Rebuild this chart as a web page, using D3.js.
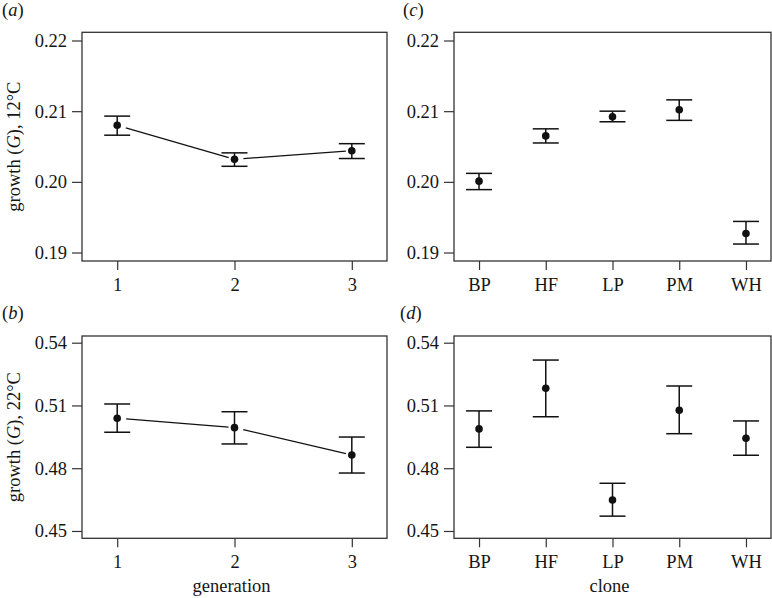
<!DOCTYPE html>
<html>
<head>
<meta charset="utf-8">
<script src="https://cdn.jsdelivr.net/npm/d3@7"></script>
<style>
  html, body { margin: 0; padding: 0; background: #fff; }
  svg { display: block; }
  text { font-family: "Liberation Serif", "Times New Roman", serif; fill: #151515; }
</style>
</head>
<body>
<svg id="chart" width="772" height="598"></svg>
<script>
// ---- data ----
const generations = ["1", "2", "3"];
const clones = ["BP", "HF", "LP", "PM", "WH"];

const gen12Mean = [0.2080, 0.2032, 0.2044];
const gen12Lo   = [0.2066, 0.2022, 0.2033];
const gen12Hi   = [0.2093, 0.2041, 0.2054];

const clone12Mean = [0.2001, 0.2065, 0.2092, 0.2102, 0.1927];
const clone12Lo   = [0.1989, 0.2055, 0.2085, 0.2087, 0.1912];
const clone12Hi   = [0.2012, 0.2075, 0.2100, 0.2116, 0.1944];

const gen22Mean = [0.5039, 0.4994, 0.4863];
const gen22Lo   = [0.4972, 0.4916, 0.4777];
const gen22Hi   = [0.5107, 0.5070, 0.4949];

const clone22Mean = [0.4988, 0.5182, 0.4648, 0.5077, 0.4943];
const clone22Lo   = [0.4900, 0.5046, 0.4571, 0.4965, 0.4862];
const clone22Hi   = [0.5074, 0.5317, 0.4728, 0.5193, 0.5026];

const ticks12 = [0.19, 0.20, 0.21, 0.22];
const ticks22 = [0.45, 0.48, 0.51, 0.54];

const panelLabels = ["a", "b", "c", "d"];
const yTitle12 = ["growth (", "G", "), 12°C"];
const yTitle22 = ["growth (", "G", "), 22°C"];
const xTitleGen = "generation";
const xTitleClone = "clone";

// ---- drawing ----
const svg = d3.select("#chart");
const FRAME = "#333";
const FS = 18.5;

function panel(opts) {
  const { left, right, top, bottom, cats, mean, lo, hi, yDomain, ticks, connect, label, labelX, labelY, yTitle, xTitle, tickFmt } = opts;
  const g = svg.append("g");
  const pad = cats.length === 3 ? 0.3 : 0.375;
  const x = d3.scaleLinear().domain([1 - pad, cats.length + pad]).range([left, right]);
  const y = d3.scaleLinear().domain(yDomain).range([bottom, top]);

  // frame
  g.append("rect").attr("x", left).attr("y", top)
    .attr("width", right - left).attr("height", bottom - top)
    .attr("fill", "none").attr("stroke", FRAME).attr("stroke-width", 1.3);

  // y axis
  const yAxis = d3.axisLeft(y).tickValues(ticks).tickFormat(tickFmt).tickSize(10).tickPadding(5);
  const ya = g.append("g").attr("transform", `translate(${left},0)`).call(yAxis);
  ya.select(".domain").remove();
  ya.selectAll(".tick line").attr("stroke", FRAME).attr("stroke-width", 1.2);
  ya.selectAll(".tick text").attr("font-size", FS).attr("font-family", "Liberation Serif").attr("fill", "#151515");

  // x axis
  const xAxis = d3.axisBottom(x).tickValues(d3.range(1, cats.length + 1)).tickFormat(i => cats[i - 1]).tickSize(9).tickPadding(8);
  const xa = g.append("g").attr("transform", `translate(0,${bottom})`).call(xAxis);
  xa.select(".domain").remove();
  xa.selectAll(".tick line").attr("stroke", FRAME).attr("stroke-width", 1.2);
  xa.selectAll(".tick text").attr("font-size", FS).attr("font-family", "Liberation Serif").attr("fill", "#151515");

  const idx = d3.range(cats.length);

  // connecting lines with gaps
  if (connect) {
    for (let i = 0; i < cats.length - 1; i++) {
      const x1 = x(i + 1), y1 = y(mean[i]), x2 = x(i + 2), y2 = y(mean[i + 1]);
      const len = Math.hypot(x2 - x1, y2 - y1);
      const ux = (x2 - x1) / len, uy = (y2 - y1) / len;
      const g1 = 9, g2 = 6;
      g.append("line")
        .attr("x1", x1 + ux * g1).attr("y1", y1 + uy * g1)
        .attr("x2", x2 - ux * g2).attr("y2", y2 - uy * g2)
        .attr("stroke", "#111").attr("stroke-width", 1.3);
    }
  }

  // error bars
  const eb = g.append("g").attr("stroke", "#111").attr("stroke-width", 1.5);
  eb.selectAll("line.v").data(idx).join("line").attr("class", "v")
    .attr("x1", i => x(i + 1)).attr("x2", i => x(i + 1))
    .attr("y1", i => y(lo[i])).attr("y2", i => y(hi[i]));
  eb.selectAll("line.t").data(idx).join("line").attr("class", "t")
    .attr("x1", i => x(i + 1) - 13).attr("x2", i => x(i + 1) + 13)
    .attr("y1", i => y(hi[i])).attr("y2", i => y(hi[i]));
  eb.selectAll("line.b").data(idx).join("line").attr("class", "b")
    .attr("x1", i => x(i + 1) - 13).attr("x2", i => x(i + 1) + 13)
    .attr("y1", i => y(lo[i])).attr("y2", i => y(lo[i]));

  // points
  g.selectAll("circle").data(idx).join("circle")
    .attr("cx", i => x(i + 1)).attr("cy", i => y(mean[i])).attr("r", 3.8)
    .attr("fill", "#111");

  // panel label
  const pl = g.append("text").attr("x", labelX).attr("y", labelY).attr("font-size", FS);
  pl.append("tspan").text("(");
  pl.append("tspan").attr("font-style", "italic").text(label);
  pl.append("tspan").text(")");

  // y title
  if (yTitle) {
    const yt = g.append("text")
      .attr("transform", `translate(20,${(top + bottom) / 2}) rotate(-90)`)
      .attr("text-anchor", "middle").attr("font-size", FS);
    yt.append("tspan").text(yTitle[0]);
    yt.append("tspan").attr("font-style", "italic").text(yTitle[1]);
    yt.append("tspan").text(yTitle[2]);
  }
  if (xTitle) {
    g.append("text").attr("x", (left + right) / 2 - 3).attr("y", 592)
      .attr("text-anchor", "middle").attr("font-size", FS).text(xTitle);
  }
}

const fmt2 = d3.format(".2f");
const dom12 = [0.1888, 0.22116];
const dom22 = [0.4465, 0.5432];

panel({ left: 82, right: 387, top: 32.3, bottom: 261, cats: generations,
  mean: gen12Mean, lo: gen12Lo, hi: gen12Hi, yDomain: dom12, ticks: ticks12, tickFmt: fmt2,
  connect: true, label: panelLabels[0], labelX: 2, labelY: 16, yTitle: yTitle12 });

panel({ left: 454, right: 771, top: 32.3, bottom: 261, cats: clones,
  mean: clone12Mean, lo: clone12Lo, hi: clone12Hi, yDomain: dom12, ticks: ticks12, tickFmt: fmt2,
  connect: false, label: panelLabels[2], labelX: 403, labelY: 16 });

panel({ left: 82, right: 387, top: 336, bottom: 538.3, cats: generations,
  mean: gen22Mean, lo: gen22Lo, hi: gen22Hi, yDomain: dom22, ticks: ticks22, tickFmt: fmt2,
  connect: true, label: panelLabels[1], labelX: 2, labelY: 319, yTitle: yTitle22, xTitle: xTitleGen });

panel({ left: 454, right: 771, top: 336, bottom: 538.3, cats: clones,
  mean: clone22Mean, lo: clone22Lo, hi: clone22Hi, yDomain: dom22, ticks: ticks22, tickFmt: fmt2,
  connect: false, label: panelLabels[3], labelX: 400, labelY: 319, xTitle: xTitleClone });
</script>
</body>
</html>
